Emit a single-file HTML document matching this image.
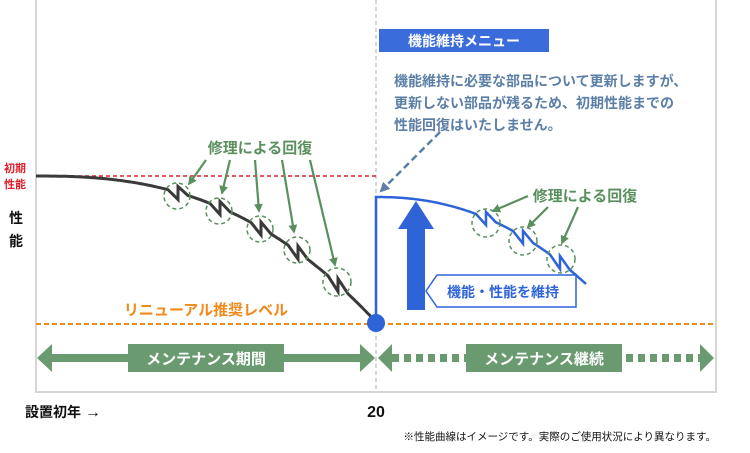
<!DOCTYPE html>
<html><head><meta charset="utf-8"><style>
body{margin:0;background:#fff;}
svg{display:block;font-family:"Liberation Sans","Noto Sans CJK JP",sans-serif;}
</style></head><body>
<svg id="s" width="750" height="453" viewBox="0 0 750 453" xmlns="http://www.w3.org/2000/svg">
<rect x="36" y="-2" width="680" height="394" fill="#fff" stroke="#c8c8c8" stroke-width="1.5"/>
<line x1="376" y1="0" x2="376" y2="392" stroke="#bbb" stroke-width="1.2" stroke-dasharray="4,3"/>
<line x1="36" y1="176" x2="376" y2="176" stroke="#e0202a" stroke-width="1.5" stroke-dasharray="4,3"/>
<line x1="36" y1="324" x2="716" y2="324" stroke="#f08a1c" stroke-width="2" stroke-dasharray="5,3"/>
<text x="4" y="172" font-size="11" font-weight="bold" fill="#e0202a">初期</text>
<text x="4" y="188" font-size="11" font-weight="bold" fill="#e0202a">性能</text>
<text x="9" y="223" font-size="14" font-weight="bold" fill="#111">性</text>
<text x="9" y="246" font-size="14" font-weight="bold" fill="#111">能</text>
<text x="206" y="315" font-size="15" font-weight="bold" fill="#f08a1c" text-anchor="middle">リニューアル推奨レベル</text>
<path id="bk" fill="none" stroke="#3a3a3a" stroke-width="3" stroke-linejoin="miter"/>
<path id="bl" fill="none" stroke="#2f64d8" stroke-width="2.5"/>
<g fill="none" stroke="#5a8f5e" stroke-width="1.5" stroke-dasharray="4,3">
<circle cx="177" cy="196" r="13"/><circle cx="219" cy="211" r="13"/><circle cx="260" cy="229" r="13"/><circle cx="297" cy="250" r="13"/><circle cx="337" cy="282" r="14"/>
<circle cx="486" cy="223" r="14"/><circle cx="523" cy="241" r="14"/><circle cx="561" cy="259" r="14"/>
</g>
<defs><marker id="ga" viewBox="0 0 10 10" refX="8" refY="5" markerWidth="4" markerHeight="4" orient="auto"><path d="M0,0L10,5L0,10z" fill="#5a8f5e"/></marker>
<marker id="ba" viewBox="0 0 10 10" refX="8" refY="5" markerWidth="4" markerHeight="4" orient="auto"><path d="M0,0L10,5L0,10z" fill="#5b7fa6"/></marker></defs>
<g stroke="#5a8f5e" stroke-width="2.2" marker-end="url(#ga)">
<line x1="206" y1="160" x2="189" y2="184"/><line x1="230" y1="160" x2="222" y2="193"/><line x1="255" y1="160" x2="259" y2="211"/><line x1="282" y1="160" x2="294" y2="232"/><line x1="310" y1="160" x2="335" y2="265"/>
<line x1="528" y1="196" x2="493" y2="211"/><line x1="548" y1="207" x2="528" y2="227"/><line x1="578" y1="207" x2="562" y2="243"/>
</g>
<text x="260" y="153" font-size="15" font-weight="bold" fill="#5a8f5e" text-anchor="middle">修理による回復</text>
<text x="585" y="201" font-size="15" font-weight="bold" fill="#5a8f5e" text-anchor="middle">修理による回復</text>
<line x1="440" y1="132" x2="381" y2="191" stroke="#5b7fa6" stroke-width="2.5" stroke-dasharray="7,4" marker-end="url(#ba)"/>
<rect x="379" y="29" width="170" height="23" fill="#3a6cdb"/>
<text x="464" y="46" font-size="14" font-weight="bold" fill="#fff" text-anchor="middle">機能維持メニュー</text>
<g font-size="14" font-weight="bold" fill="#5b7fa6">
<text x="394" y="86">機能維持に必要な部品について更新しますが、</text>
<text x="394" y="108">更新しない部品が残るため、初期性能までの</text>
<text x="394" y="130">性能回復はいたしません。</text>
</g>
<rect x="407" y="228" width="18" height="82" fill="#2f64d8"/>
<path d="M398,229 L416,201 L434,229 Z" fill="#2f64d8"/>
<path d="M437,275 L576,275 L576,307 L437,307 L426,291 Z" fill="#fff" stroke="#2f64d8" stroke-width="1.5"/>
<text x="503" y="297" font-size="14" font-weight="bold" fill="#2f64d8" text-anchor="middle">機能・性能を維持</text>
<circle cx="376" cy="323" r="9" fill="#2f64d8"/>
<g fill="#6a9a70">
<rect x="45" y="354" width="322" height="8"/>
<path d="M37,358 L52,344 L52,372 Z"/><path d="M375,358 L360,344 L360,372 Z"/>
<rect x="128" y="344" width="156" height="28"/>
<path d="M378,358 L392,344 L392,372 Z"/><path d="M714,358 L700,344 L700,372 Z"/>
<rect x="466" y="344" width="156" height="28"/>
</g>
<line x1="392" y1="358" x2="466" y2="358" stroke="#6a9a70" stroke-width="8" stroke-dasharray="7,5"/>
<line x1="626" y1="358" x2="700" y2="358" stroke="#6a9a70" stroke-width="8" stroke-dasharray="7,5"/>
<text x="206" y="364" font-size="15" font-weight="bold" fill="#fff" text-anchor="middle">メンテナンス期間</text>
<text x="544" y="364" font-size="15" font-weight="bold" fill="#fff" text-anchor="middle">メンテナンス継続</text>
<text x="25" y="417" font-size="14" font-weight="bold" fill="#111">設置初年 <tspan font-size="16" font-weight="normal">→</tspan></text>
<text x="376" y="417" font-size="16" font-weight="bold" fill="#111" text-anchor="middle">20</text>
<text x="716" y="440" font-size="10.5" fill="#111" text-anchor="end">※性能曲線はイメージです。実際のご使用状況により異なります。</text>
</svg>
<script>
function mk(x0,x1,y0,dy,p,jags,first){
 var f=function(x){return y0+dy*Math.pow((x-x0)/(x1-x0),p);};
 var d=(first?"M":" L")+x0+","+y0;
 var x=x0;
 while(x<x1){
  var nx=x+2, j=null;
  for(var k=0;k<jags.length;k++) if(nx>jags[k]-10 && x<=jags[k]-10) j=jags[k];
  if(j!==null){
   d+=" L"+(j-10)+","+f(j-10).toFixed(1);
   d+=" L"+j+","+(f(j)+7).toFixed(1)+" L"+j+","+(f(j)-6).toFixed(1);
   d+=" L"+(j+10)+","+f(j+10).toFixed(1);
   x=j+10; continue;
  }
  x=Math.min(nx,x1);
  d+=" L"+x+","+f(x).toFixed(1);
 }
 return d;}
document.getElementById("bk").setAttribute("d",mk(36,376,176,146,2.5,[178,220,261,298,338],true));
document.getElementById("bl").setAttribute("d","M376,322 L376,197"+mk(376,586,197,87,2.2,[486,523,560],false));
</script>
</body></html>
